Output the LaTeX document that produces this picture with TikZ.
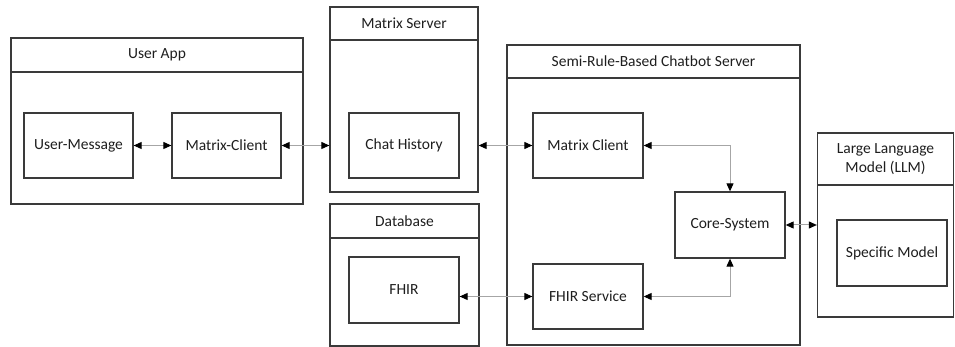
\documentclass[tikz,border=0pt]{standalone}
\usepackage{fontspec}
\setmainfont{Carlito}
\usetikzlibrary{arrows.meta}
\definecolor{boxline}{HTML}{3A3A3A}
\definecolor{connline}{HTML}{A6A6A6}
\definecolor{txt}{HTML}{1E1E1E}
\begin{document}
\begin{tikzpicture}[x=1pt,y=-1pt,
  inner/.style={draw=boxline, line width=1.3pt, minimum width=110pt, minimum height=65pt,
    inner sep=0pt, text=txt, font=\fontsize{15.5}{18.5}\selectfont},
  cont/.style={draw=boxline, line width=1.3pt, inner sep=0pt},
  hdr/.style={draw=boxline, line width=1.3pt, inner sep=0pt, anchor=north, text=txt,
    align=center, font=\fontsize{15.5}{18.5}\selectfont},
  conn/.style={draw=connline, line width=1pt,
    {Triangle[length=8pt,width=7pt,color=black]}-{Triangle[length=8pt,width=7pt,color=black]}}
]
\useasboundingbox (0,0) rectangle (955,347);

% User App
\node[cont, minimum width=292pt, minimum height=166pt] (ua) at (157,121) {};
\node[hdr, minimum width=292pt, minimum height=34pt] (uah) at (ua.north) {User App};
\node[inner, minimum width=109pt] (um) at (78.5,145.5) {User-Message};
\node[inner, minimum width=109pt] (mc) at (226.5,145.5) {Matrix-Client};

% Matrix Server
\node[cont, minimum width=148pt, minimum height=185pt] (ms) at (404,99.5) {};
\node[hdr, minimum width=148pt, minimum height=33pt] (msh) at (ms.north) {Matrix Server};
\node[inner] (ch) at (404,145.5) {Chat History};

% Database
\node[cont, minimum width=149pt, minimum height=142pt] (db) at (404.5,275) {};
\node[hdr, minimum width=149pt, minimum height=34pt] (dbh) at (db.north) {Database};
\node[inner, minimum height=66pt] (fhir) at (404,290) {FHIR};

% Semi-Rule-Based Chatbot Server
\node[cont, minimum width=293pt, minimum height=300pt] (cs) at (653.5,195) {};
\node[hdr, minimum width=293pt, minimum height=33pt] (csh) at (cs.north) {Semi-Rule-Based Chatbot Server};
\node[inner] (mcl) at (588,145.5) {Matrix Client};
\node[inner, minimum height=66pt] (core) at (730,225) {Core-System};
\node[inner] (fs) at (588,296.5) {FHIR Service};

% LLM
\node[cont, minimum width=136pt, minimum height=184pt] (llm) at (885.5,225) {};
\node[hdr, minimum width=136pt, minimum height=52pt] (llmh) at (llm.north) {Large Language\\Model (LLM)};
\node[inner, minimum height=66pt] (sm) at (892,253) {Specific Model};

% Connectors
\draw[conn] (um.east) -- (mc.west);
\draw[conn] (mc.east) -- (mc.east -| ms.west);
\draw[conn] (mcl.west -| ms.east) -- (mcl.west);
\draw[conn] (mcl.east) -| (core.north);
\draw[conn] (fs.east) -| (core.south);
\draw[conn] (core.east) -- (core.east -| llm.west);
\draw[conn] (fs.west -| fhir.east) -- (fs.west);
\end{tikzpicture}
\end{document}
